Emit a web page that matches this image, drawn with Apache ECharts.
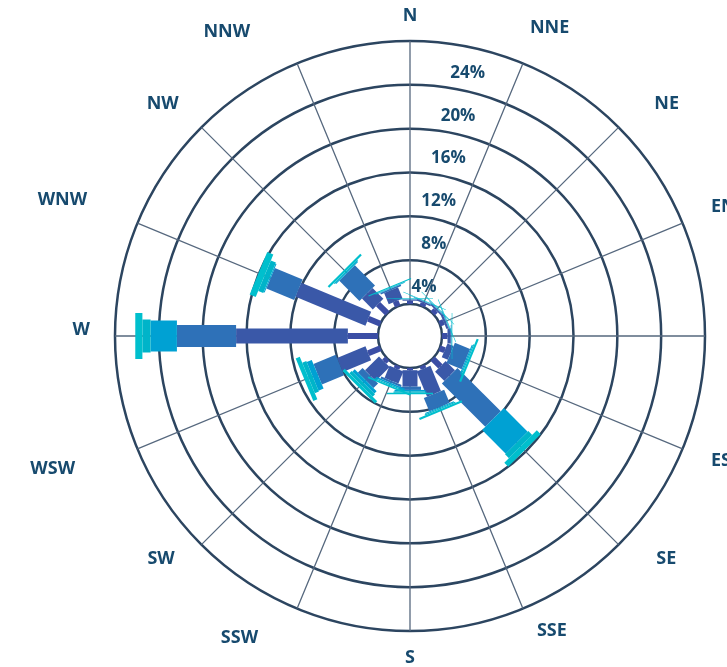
<!DOCTYPE html>
<html>
<head>
<meta charset="utf-8">
<script src="https://cdn.jsdelivr.net/npm/echarts@6/dist/echarts.min.js"></script>
<style>
  html, body { margin: 0; padding: 0; background: #fff; }
  #wind-rose { width: 727px; height: 667px; }
</style>
</head>
<body>
<div id="wind-rose"></div>
<script>
  // directions, clockwise from north
  const directions = ['N', 'NNE', 'NE', 'ENE', 'E', 'ESE', 'SE', 'SSE', 'S', 'SSW', 'SW', 'WSW', 'W', 'WNW', 'NW', 'NNW']
  const ringLabels = ['4%', '8%', '12%', '16%', '20%', '24%']

  // frequency (%) of each speed class per direction, innermost class first
  const class1 = [0.3, 0.3, 0.4, 0.4, 0.5, 0.5, 1.0, 0.3, 0.2, 0.3, 0.4, 1.2, 2.75, 1.2, 1.2, 0.5]
  const class2 = [0.1, 0.15, 0.15, 0.2, 0.3, 0.6, 1.2, 2.5, 1.5, 1.2, 1.8, 2.8, 10.2, 6.9, 1.4, 1.1]
  const class3 = [0.03, 0.03, 0.05, 0.05, 0.05, 1.5, 5.6, 1.3, 0.3, 0.2, 0.6, 2.2, 5.4, 2.75, 2.6, 0.15]
  const class4 = [0.02, 0.02, 0.03, 0.03, 0.02, 0.1, 3.05, 0.1, 0.15, 0.15, 0.3, 0.5, 2.4, 0.1, 0.1, 0.05]
  const class5 = [0.02, 0.02, 0.02, 0.02, 0.02, 0.1, 0.5, 0.1, 0.1, 0.1, 0.3, 0.4, 0.75, 0.5, 0.1, 0.05]
  const class6 = [0.05, 0.05, 0.05, 0.05, 0.05, 0.2, 0.5, 0.2, 0.15, 0.15, 0.3, 0.4, 0.65, 0.6, 0.2, 0.1]

  const classColors = ['#3b4ea5', '#3a58a8', '#2e71b8', '#00a1d3', '#00b4c9', '#00bfcd']
  const classWidths = [6, 15, 22, 31, 33, 46]

  // nudges for the direction labels [top, right, bottom, left]
  const labelPadding = {
    N: [0, 0, 8, 0], NNE: [0, 0, 19, 4], NE: [0, 0, 9, 30], ENE: [0, 0, 4, 21],
    E: [0, 0, 0, 30], ESE: [0, 0, 0, 21], SE: [0, 0, 0, 32], SSE: [6, 0, 0, 11],
    S: [10, 0, 0, 0], SSW: [13, 36, 0, 0], SW: [0, 21, 0, 0], WSW: [8, 55, 0, 0],
    W: [0, 17, 0, 0], WNW: [0, 43, 11, 0], NW: [0, 17, 9, 0], NNW: [0, 44, 15, 0]
  }

  const textColor = '#174a6e'
  const fontFamily = '"Open Sans", "Noto Sans", sans-serif'
  const center = [410, 336]
  const radius = [32, 295]

  // a straight bar piece from start to end along one direction
  const barPiece = (color, width) => (params, api) => {
    const dir = api.value(0)
    const a = api.coord([api.value(1), dir])
    const b = api.coord([api.value(2), dir])
    const ang = b[3]
    const ux = Math.cos(ang)
    const uy = -Math.sin(ang)
    const nx = -uy * width / 2
    const ny = ux * width / 2
    return {
      type: 'polygon',
      shape: {
        points: [
          [a[0] + nx, a[1] + ny],
          [b[0] + nx, b[1] + ny],
          [b[0] - nx, b[1] - ny],
          [a[0] - nx, a[1] - ny]
        ]
      },
      style: { fill: color }
    }
  }

  const classes = [class1, class2, class3, class4, class5, class6]
  const base = directions.map(() => 0)
  const series = classes.map((vals, k) => {
    const rows = vals.map((v, i) => {
      const row = [i, base[i], base[i] + v]
      base[i] += v
      return row
    })
    return {
      type: 'custom',
      coordinateSystem: 'polar',
      polarIndex: 0,
      encode: { angle: 0, radius: [1, 2] },
      data: rows,
      renderItem: barPiece(classColors[k], classWidths[k])
    }
  })

  const labelFont = {
    color: textColor,
    fontSize: 18,
    fontWeight: 'bold',
    fontFamily: fontFamily
  }

  const option = {
    animation: false,
    polar: [
      { center: center, radius: radius },
      { center: center, radius: radius },
      { center: center, radius: radius }
    ],
    angleAxis: [
      {
        // spokes and direction names
        polarIndex: 0,
        type: 'category',
        data: directions.map(d => ({ value: d, textStyle: { padding: labelPadding[d] } })),
        boundaryGap: false,
        startAngle: 90,
        clockwise: true,
        axisLine: { show: false },
        axisTick: { show: false },
        axisLabel: Object.assign({
          margin: 8,
          // W sits a little above its spoke
          formatter: v => (v === 'W' ? '{lift|W}' : v),
          rich: { lift: Object.assign({ padding: [0, 0, 13, 0] }, labelFont) }
        }, labelFont),
        splitLine: { show: true, lineStyle: { color: '#56687e', width: 1.3 } }
      },
      {
        // full circle for the rings
        polarIndex: 1,
        type: 'value',
        min: 0,
        max: 360,
        startAngle: 90,
        show: false
      },
      {
        // ring labels sit along this angle
        polarIndex: 2,
        type: 'value',
        startAngle: 77.2,
        show: false
      }
    ],
    radiusAxis: [
      {
        polarIndex: 0,
        type: 'value',
        min: 0,
        max: 24,
        interval: 4,
        axisLine: { show: false },
        axisTick: { show: false },
        axisLabel: { show: false },
        splitLine: { show: false }
      },
      {
        polarIndex: 1,
        type: 'value',
        min: 0,
        max: 24,
        interval: 4,
        axisLine: { show: false },
        axisTick: { show: false },
        axisLabel: { show: false },
        splitLine: { show: true, lineStyle: { color: '#2c4560', width: 2.5 } }
      },
      {
        polarIndex: 2,
        type: 'category',
        data: ringLabels,
        axisLine: { show: false },
        axisTick: { show: false },
        splitLine: { show: false },
        axisLabel: {
          interval: 0,
          margin: -15,
          color: textColor,
          fontSize: 17,
          fontWeight: 'bold',
          fontFamily: fontFamily
        }
      }
    ],
    series: series
  }

  const chart = echarts.init(document.getElementById('wind-rose'))
  chart.setOption(option)
</script>
</body>
</html>
